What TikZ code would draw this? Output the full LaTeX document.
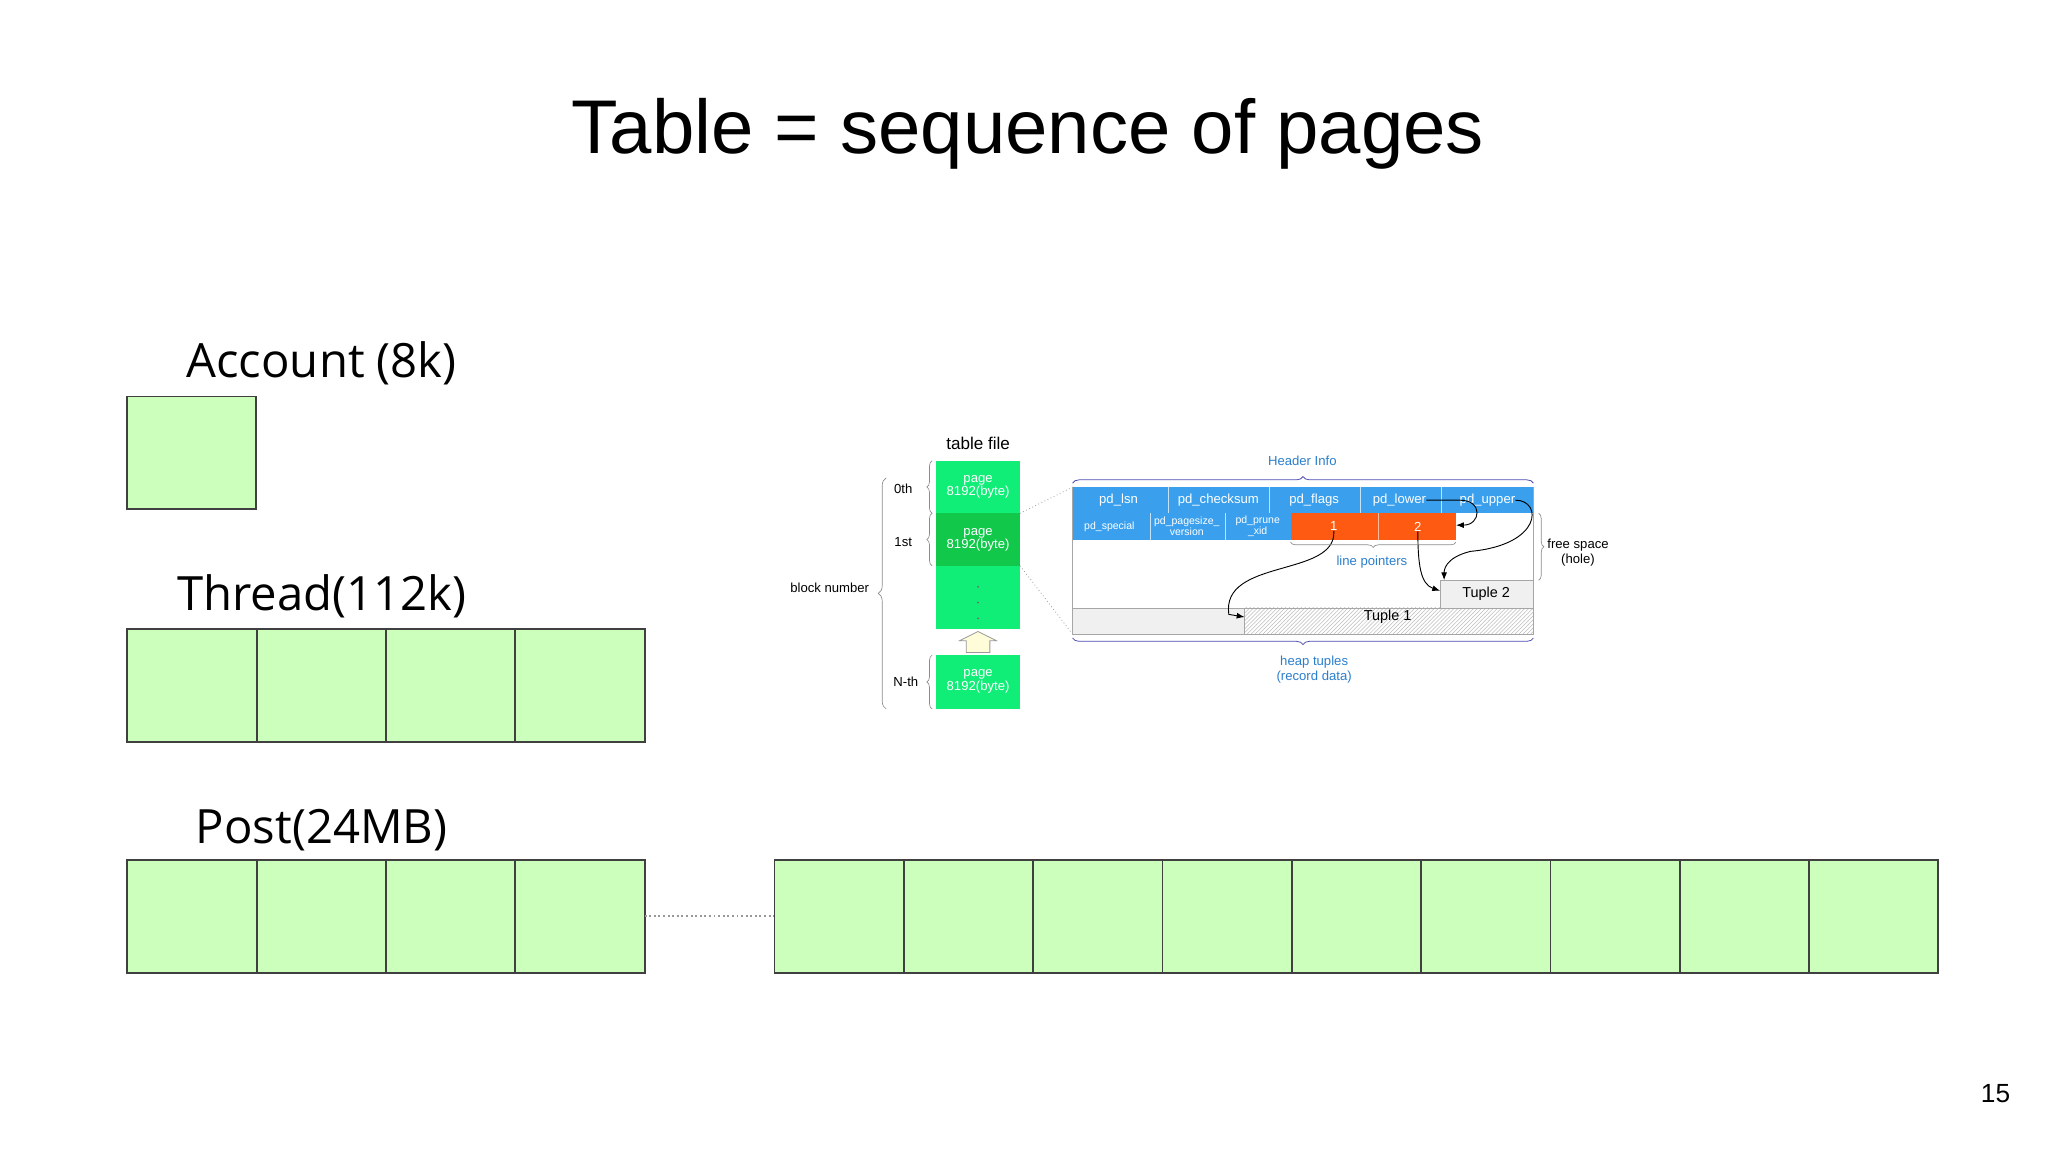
\documentclass[tikz,border=0pt]{standalone}
\usepackage{fontspec}
\setmainfont{Liberation Sans}
\newfontfamily\osans{Open Sans}
\usetikzlibrary{decorations.pathreplacing,patterns,arrows.meta}
\definecolor{pg}{HTML}{CCFFBB}
\definecolor{lg}{HTML}{11EE77}
\definecolor{dg}{HTML}{11C84A}
\definecolor{bl}{HTML}{3AA0EE}
\definecolor{orng}{HTML}{FF5A11}
\definecolor{txtb}{HTML}{2A7FCC}
\tikzset{
 cell/.style={draw=black!75,line width=1.4pt,fill=pg},
 big/.style={font=\osans\fontsize{36}{40}\selectfont},
 sm/.style={font=\fontsize{10}{11}\selectfont},
 wt/.style={font=\fontsize{10}{10}\selectfont,text=white,inner sep=0pt,align=center},
 br/.style={decorate,decoration={brace,amplitude=4pt},draw=black!45,line width=0.5pt},
 bb/.style={decorate,decoration={brace,amplitude=5pt},draw=blue!40!gray,line width=0.6pt},
 ptr/.style={-{Latex[length=6pt]},line width=0.7pt}
}
\begin{document}
\begin{tikzpicture}[x=1pt,y=-1pt]
\useasboundingbox (0,0) rectangle (1560,878);
\fill[white] (0,0) rectangle (1560,878);
\node (title) at (783,102) {\fontsize{58}{62}\selectfont Table = sequence of pages};
\node (pnum) at (1520,833) {\fontsize{20}{22}\selectfont 15};
% Account
\node[big] (acc) at (245,277) {Account (8k)};
\draw[cell] (97,302) rectangle (195,388);
% Thread
\node[big] (thr) at (245,454) {Thread(112k)};
\foreach \i in {0,...,3}{\draw[cell] (97+\i*98.5,479) rectangle (195.5+\i*98.5,565);}
% Post
\node[big] (post) at (245,632) {Post(24MB)};
\foreach \i in {0,...,3}{\draw[cell] (97+\i*98.5,655) rectangle (195.5+\i*98.5,741);}
\coordinate (d1) at (491,698); \coordinate (d2) at (590,698);
\draw[dotted,line width=1.5pt,black!40] (d1) -- (d2);
\foreach \i in {0,...,8}{\draw[cell] (590+\i*98.5,655) rectangle (688.5+\i*98.5,741);}
% table file
\node (tf) at (745,338) {\fontsize{13}{14}\selectfont table file};
\fill[lg] (713,351) rectangle (777,391);
\fill[dg] (713,391) rectangle (777,431);
\fill[lg] (713,431) rectangle (777,479);
\fill[lg] (713,499) rectangle (777,540);
\node[wt] (p0) at (745,371) {page\\8192(byte)};
\node[wt] (p1) at (745,411) {page\\8192(byte)};
\node[wt] (pn) at (745,519) {page\\8192(byte)};
\foreach \yy in {447,459,471}{\fill[black!60] (745,\yy) circle (0.7);}
\draw[draw=black!40,fill=yellow!15,line width=0.6pt] (736,497) -- (736,488) -- (731,488) -- (745,481) -- (759,488) -- (754,488) -- (754,497) -- cycle;
\draw[br] (710,391) -- (710,351);
\draw[br] (710,431) -- (710,391);
\draw[br] (710,540) -- (710,499);
\draw[br,decoration={amplitude=6pt}] (675,540) -- (675,364);
\node[sm] (b0) at (688,372) {0th};
\node[sm] (b1) at (688,413) {1st};
\node[sm] (bn) at (690,519) {N-th};
\node[sm] (bnum) at (632,448) {block number};
% zoom lines
\coordinate (z1) at (777,391); \coordinate (z2) at (817,371);
\coordinate (z3) at (777,431); \coordinate (z4) at (817,483);
\draw[dotted,black!40,line width=0.6pt] (z1) -- (z2);
\draw[dotted,black!40,line width=0.6pt] (z3) -- (z4);
% page detail
\draw[black!35,line width=0.6pt,fill=white] (817,371) rectangle (1168,483);
\fill[bl] (817,371) rectangle (1168,391);
\fill[bl] (817,391) rectangle (983,411);
\fill[orng] (983,391) rectangle (1109,411);
\foreach \xx in {890,967,1036,1098}{\draw[white!70!bl,line width=0.5pt] (\xx,371) -- (\xx,391);}
\foreach \xx in {876,933}{\draw[white!70!bl,line width=0.5pt] (\xx,391) -- (\xx,411);}
\draw[white!60!orng,line width=0.5pt] (1050,391) -- (1050,411);
\draw[black!35,fill=black!6] (817,463) rectangle (948,483);
\draw[black!35,pattern=north east lines,pattern color=black!25] (948,463) rectangle (1168,483);
\draw[black!35,fill=black!6] (1097,442) rectangle (1168,463);
\node[wt] (lsn) at (852,381) {pd\_lsn};
\node[wt] (chk) at (928,381) {pd\_checksum};
\node[wt] (flg) at (1001,381) {pd\_flags};
\node[wt] (low) at (1066,381) {pd\_lower};
\node[wt] (upp) at (1133,381) {pd\_upper};
\node[wt,font=\fontsize{8}{8}\selectfont] (spc) at (845,401) {pd\_special};
\node[wt,font=\fontsize{8}{8}\selectfont] (psz) at (904,401) {pd\_pagesize\_\\version};
\node[wt,font=\fontsize{8}{8}\selectfont] (prn) at (958,401) {pd\_prune\\\_xid};
\node[wt] (lp1) at (1016,401) {1};
\node[wt] (lp2) at (1080,401) {2};
\node[inner sep=0pt] (t2) at (1132,452) {\fontsize{11}{12}\selectfont Tuple 2};
\node[inner sep=0pt] (t1) at (1057,470) {\fontsize{11}{12}\selectfont Tuple 1};
\coordinate (t1w) at (948,470); \coordinate (t2w) at (1097,450);
\coordinate (lpe) at (1109,400); \coordinate (t2n) at (1100,442);
\draw[ptr] (lp1.south) .. controls (1018,440) and (930,425) .. (936,468) -- (t1w);
\draw[ptr] (lp2.south) .. controls (1080,430) and (1082,445) .. (t2w);
\draw[ptr] (low.east) -- (1112,381) .. controls (1130,381) and (1128,400) .. (lpe);
\draw[ptr] (upp.east) .. controls (1175,381) and (1175,415) .. (1120,420) .. controls (1100,425) and (1100,435) .. (t2n);
% braces
\draw[bb] (817,368) -- (1168,368);
\node[font=\fontsize{10}{11}\selectfont,text=txtb] (hi) at (992,351) {Header Info};
\draw[br] (1109,413) -- (983,413);
\node[font=\fontsize{10}{11}\selectfont,text=txtb] (lpl) at (1045,428) {line pointers};
\draw[br] (1172,391) -- (1172,442);
\node[font=\fontsize{10}{11}\selectfont,align=center] (fs) at (1202,421) {free space\\(hole)};
\draw[bb] (1168,486) -- (817,486);
\node[font=\fontsize{10}{11}\selectfont,text=txtb,align=center] (ht) at (1001,510) {heap tuples\\(record data)};
\end{tikzpicture}
\end{document}
